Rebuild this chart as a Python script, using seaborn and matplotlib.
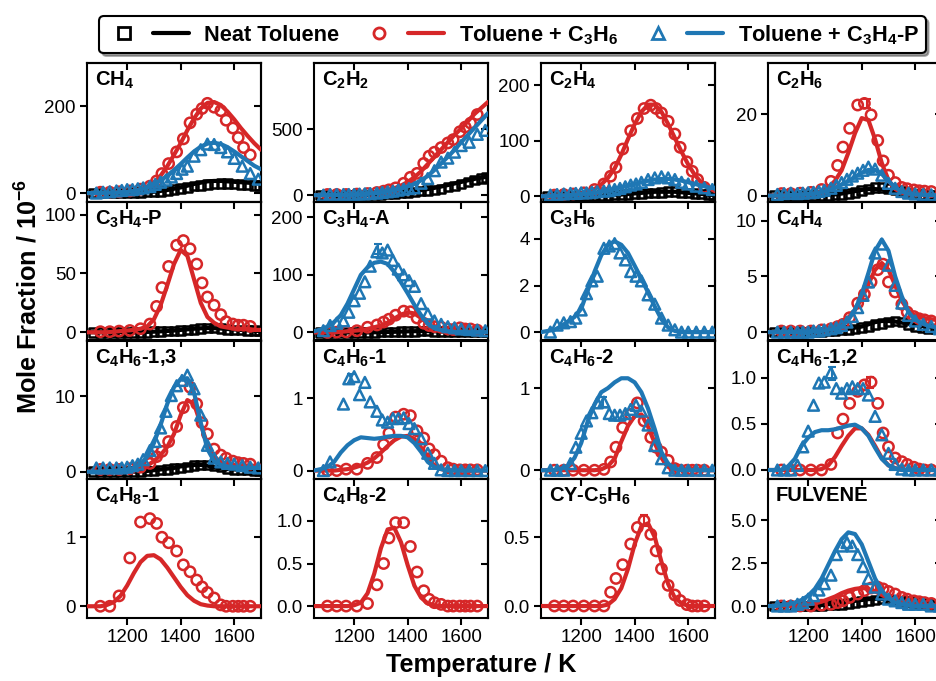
import numpy as np
import matplotlib
matplotlib.use("Agg")
import matplotlib.pyplot as plt
from matplotlib.lines import Line2D
from matplotlib.legend_handler import HandlerTuple
import seaborn as sns

nan = np.nan

# experimental temperatures (K) for the three mixtures
T_neat = [1075, 1100, 1125, 1150, 1175, 1200, 1225, 1250, 1275, 1300, 1325, 1350, 1375,
          1400, 1425, 1450, 1475, 1500, 1525, 1550, 1575, 1600, 1625, 1650, 1675, 1695]
T_c3h6 = [1100, 1135, 1170, 1210, 1250, 1285, 1310, 1330, 1355, 1385, 1410, 1435, 1460,
          1480, 1500, 1525, 1550, 1570, 1595, 1615, 1635, 1660]
T_c3h4p = [1085, 1110, 1135, 1160, 1180, 1200, 1220, 1240, 1260, 1285, 1305, 1325, 1345, 1365,
           1385, 1405, 1425, 1450, 1475, 1500, 1525, 1550, 1575, 1600, 1630, 1660, 1690]
# model temperatures
T_mod = [1050, 1075, 1100, 1125, 1150, 1175, 1200, 1225, 1250, 1275, 1300, 1325, 1350, 1375,
         1400, 1425, 1450, 1475, 1500, 1525, 1550, 1575, 1600, 1625, 1650, 1675, 1700]

# CH4
ch4_neat = [0, 0, 0, 0, 0, 0, 1, 1, 2, 3, 4, 6, 8, 10, 13, 16, 18, 20, 21, 22, 22, 21, 20, 19, 18, 17]
ch4_c3h6 = [2, 2, 3, 5, 9, 16, 28, 45, 68, 95, 125, 162, 182, 195, 207, 198, 190, 168, 150, 128, 105, 88]
ch4_c3h4p = [0, 2, 3, 5, 6, 8, 8, 10, 12, 15, 20, 25, 30, 37, 45, 55, 62, 85, 100, 113, 112, 105, 95, 80, 62, 45, 32]
ch4_neat_mod = [0, 0, 0, 0, 0, 0, 0, 1, 1, 2, 3, 5, 7, 10, 13, 17, 21, 24, 27, 28, 28, 27, 26, 25, 24, 23, 22]
ch4_c3h6_mod = [0, 0, 0, 1, 1, 2, 3, 5, 9, 15, 24, 40, 62, 88, 115, 145, 172, 195, 208, 210, 203, 188, 170, 150, 132, 115, 100]
ch4_c3h4p_mod = [0, 0, 0, 1, 1, 2, 3, 5, 8, 13, 20, 29, 40, 53, 67, 82, 96, 107, 114, 116, 113, 106, 96, 85, 74, 63, 55]

# C2H2
c2h2_neat = [0, 0, 0, 0, 0, 0, 0, 0, 2, 5, 8, 12, 15, 20, 25, 30, 35, 38, 45, 60, 70, 85, 100, 115, 125, 135]
c2h2_c3h6 = [5, 5, 5, 8, 12, 20, 30, 40, 55, 90, 135, 165, 240, 295, 325, 360, 395, 420, 480, 515, 545, 610]
c2h2_c3h4p = [0, 5, 5, 5, 5, 5, 8, 10, 12, 15, 20, 25, 30, 38, 45, 50, 55, 90, 125, 185, 250, 280, 325, 375, 400, 460, 490]
c2h2_neat_mod = [0, 0, 0, 0, 0, 0, 0, 1, 2, 4, 7, 10, 14, 19, 25, 31, 38, 46, 55, 65, 76, 88, 100, 112, 123, 133, 140]
c2h2_c3h6_mod = [0, 0, 0, 1, 2, 3, 5, 8, 12, 18, 26, 37, 52, 72, 100, 135, 180, 235, 290, 345, 400, 455, 505, 560, 615, 660, 705]
c2h2_c3h4p_mod = [0, 0, 0, 1, 2, 3, 5, 7, 10, 14, 20, 28, 38, 50, 65, 85, 112, 145, 190, 240, 290, 342, 400, 455, 510, 565, 620]

# C2H4
c2h4_neat = [0, 0, 0, 0, 0, 0, 0, 0, 1, 1, 2, 2, 3, 4, 5, 6, 6, 7, 8, 8, 7, 6, 5, 4, 3, 2]
c2h4_c3h6 = [2, 3, 4, 6, 12, 22, 36, 52, 85, 118, 140, 158, 164, 158, 150, 135, 112, 88, 62, 45, 30, 16]
c2h4_c3h4p = [2, 3, 4, 5, 5, 6, 6, 7, 8, 9, 10, 12, 14, 17, 20, 22, 25, 30, 33, 35, 33, 30, 25, 22, 18, 15, 12]
c2h4_neat_mod = [0, 0, 0, 0, 0, 0, 0, 0, 0, 1, 1, 2, 3, 4, 5, 6, 7, 8, 8, 8, 8, 7, 6, 5, 4, 3, 3]
c2h4_c3h6_mod = [0, 0, 1, 1, 2, 3, 5, 8, 13, 21, 33, 50, 75, 103, 130, 152, 165, 165, 152, 130, 105, 80, 57, 38, 24, 15, 9]
c2h4_c3h4p_mod = [0, 0, 1, 1, 2, 3, 4, 5, 6, 8, 10, 13, 16, 19, 22, 25, 28, 30, 31, 31, 30, 28, 25, 22, 19, 16, 14]

# C2H6
c2h6_neat = [0, 0, 0, 0, 0, 0, 0, 0, 0.1, 0.2, 0.3, 0.5, 0.8, 1.2, 1.6, 2.0, 2.0, 1.8, 1.5, 1.0, 0.6, 0.4, 0.3, 0.2, 0.1, 0.1]
c2h6_c3h6 = [0.5, 0.5, 0.6, 0.8, 1.5, 3.5, 7.4, 11.9, 16.5, 22.2, 22.6, 19.8, 13.5, 8.5, 5.0, 3.2, 2.0, 1.7, 1.4, 1.2, 1.1, 1.0]
c2h6_c3h4p = [0.3, 0.5, 0.6, 0.5, 0.6, 0.7, 0.8, 1.0, 1.3, 1.8, 2.5, 3.2, 4.0, 4.8, 5.5, 6.2, 7.0, 6.5, 5.0, 3.0, 1.8, 1.0, 0.6, 0.4, 0.3, 0.2, 0.2]
c2h6_neat_mod = [0, 0, 0, 0, 0, 0, 0, 0, 0.1, 0.2, 0.3, 0.5, 0.8, 1.1, 1.4, 1.6, 1.6, 1.5, 1.2, 0.9, 0.6, 0.4, 0.3, 0.2, 0.1, 0.1, 0.1]
c2h6_c3h6_mod = [0, 0, 0, 0, 0.1, 0.2, 0.3, 0.6, 1.1, 2.0, 3.6, 6.2, 10.5, 15.3, 19.0, 18.5, 13.8, 8.0, 3.8, 1.6, 0.7, 0.4, 0.3, 0.2, 0.2, 0.2, 0.2]
c2h6_c3h4p_mod = [0, 0, 0, 0.1, 0.2, 0.3, 0.4, 0.6, 0.9, 1.3, 1.9, 2.7, 3.6, 4.6, 5.6, 6.3, 6.3, 5.3, 3.6, 2.0, 1.0, 0.5, 0.3, 0.2, 0.1, 0.1, 0.1]

# C3H4-P
c3h4p_neat = [0, 0, 0, 0, 0, 0, 0, 0, 0, 0.5, 0.5, 1, 1, 1.5, 2, 2.5, 3, 3.5, 3.5, 3, 2.5, 2, 2, 1.5, 1.5, 1]
c3h4p_c3h6 = [0.5, 0.5, 1, 1.5, 3, 7, 22, 38, 56, 74, 78, 71, 58, 42, 30, 23, 15, 9, 7, 6, 6, 5]
c3h4p_neat_mod = [0, 0, 0, 0, 0, 0, 0, 0, 0, 0.3, 0.5, 0.8, 1.1, 1.5, 2, 2.5, 3, 3.4, 3.6, 3.5, 3.2, 2.8, 2.4, 2, 1.7, 1.5, 1.3]
c3h4p_c3h6_mod = [0, 0, 0, 0, 0.5, 1, 1.5, 2, 3, 5, 11, 23, 40, 58, 70, 65, 45, 25, 13, 8, 5, 4, 3, 3, 3, 2, 2]

# C3H4-A
c3h4a_neat = [0, 0, 0, 0, 0, 0, 0, 0, 0, 0.5, 1, 1, 1.5, 2, 2, 2.5, 2.5, 2, 2, 1.5, 1, 1, 1, 0.5, 0.5, 0.5]
c3h4a_c3h6 = [0, 0.5, 1, 3, 9, 13, 18, 23, 30, 37, 36, 25, 16, 12, 10, 9, 6, 5, 8, 6, 6, 4]
c3h4a_c3h4p = [3, 12, 16, 20, 35, 55, 68, 88, 115, 140, 138, 143, 125, 110, 100, 90, 80, 50, 32, 20, 14, 10, 8, 6, 5, 4, 3]
c3h4a_neat_mod = [0, 0, 0, 0, 0, 0, 0, 0, 0, 0.3, 0.5, 0.8, 1.1, 1.5, 1.9, 2.2, 2.4, 2.3, 2, 1.7, 1.4, 1.1, 0.9, 0.7, 0.6, 0.5, 0.4]
c3h4a_c3h6_mod = [0, 0, 0, 0, 1, 2, 3, 4, 6, 9, 12, 17, 24, 31, 35, 33, 25, 15, 8, 4, 2, 1, 1, 0.5, 0.5, 0.5, 0.5]
c3h4a_c3h4p_mod = [2, 5, 10, 18, 30, 50, 75, 100, 113, 121, 123, 119, 105, 87, 68, 48, 30, 15, 7, 4, 2, 1, 1, 0.5, 0.5, 0.5, 0.5]

# C3H6
c3h6_c3h4p = [0.0, 0.3, 0.4, 0.45, 0.6, 0.95, 1.65, 2.2, 2.4, 3.6, 3.7, 3.8, 3.4, 3.1, 2.6, 2.4, 2.2, 1.6, 1.2,
              0.6, 0.3, 0.1, 0, 0, 0, 0, 0]
c3h6_c3h4p_mod = [0, 0.05, 0.1, 0.25, 0.45, 0.65, 1.0, 1.8, 2.6, 3.3, 3.75, 3.9, 3.75, 3.4, 2.85, 2.3, 1.7,
                  1.1, 0.55, 0.2, 0.05, 0, 0, 0, 0, 0, 0]

# C4H4
c4h4_neat = [0, 0, 0, 0, 0, 0, 0, 0, 0.1, 0.1, 0.2, 0.2, 0.3, 0.4, 0.5, 0.7, 0.8, 0.9, 1.0, 0.9, 0.7, 0.5, 0.4, 0.3, 0.3, 0.2]
c4h4_c3h6 = [0.1, 0.1, 0.1, 0.1, 0.2, 0.3, 0.5, 0.7, 1.3, 2.6, 3.4, 4.5, 5.6, 6.1, 4.5, 3.6, 2.5, 1.8, 1.4, 1.2, 1.1, 1.0]
c4h4_c3h4p = [0, 0, 0, 0, 0, 0, 0.1, 0.1, 0.2, 0.3, 0.4, 0.6, 0.9, 1.4, 2.2, 3.3, 4.5, 7.1, 7.9, 6.0, 4.2, 2.6,
              1.5, 1.0, 0.7, 0.5, 0.3]
c4h4_neat_mod = [0, 0, 0, 0, 0, 0, 0, 0, 0, 0.1, 0.1, 0.2, 0.3, 0.4, 0.5, 0.7, 0.9, 1.0, 1.0, 0.95, 0.85, 0.75,
                 0.65, 0.55, 0.5, 0.45, 0.4]
c4h4_c3h6_mod = [0, 0, 0, 0, 0, 0, 0.1, 0.1, 0.2, 0.3, 0.5, 0.8, 1.3, 2.0, 3.0, 4.3, 5.6, 6.2, 5.6, 4.2, 2.8, 1.9,
                 1.5, 1.3, 1.2, 1.1, 1.05]
c4h4_c3h4p_mod = [0, 0, 0, 0, 0, 0, 0, 0.1, 0.1, 0.2, 0.3, 0.5, 1.1, 2.0, 3.4, 5.3, 7.3, 8.3, 7.3, 5.0, 3.2, 1.8,
                  1.1, 0.8, 0.55, 0.45, 0.4]

# C4H6-1,3
c4h613_neat = [0, 0, 0, 0, 0, 0, 0, 0, 0.1, 0.1, 0.2, 0.3, 0.4, 0.5, 0.6, 0.8, 0.9, 0.9, 0.8, 0.6, 0.4, 0.3, 0.2, 0.2, 0.1, 0.1]
c4h613_c3h6 = [0.3, 0.3, 0.3, 0.4, 0.6, 1.1, 2.0, 2.7, 4.0, 6.0, 8.5, 11.2, 9.0, 6.5, 5.0, 3.0, 2.2, 1.8, 1.4, 1.2, 1.1, 1.0]
c4h613_c3h4p = [0.5, 0.5, 0.5, 0.5, 0.5, 0.6, 0.8, 1.0, 1.6, 2.8, 4.0, 5.8, 8.0, 10.1, 11.4, 12.1, 12.8, 11.0, 7.5,
                3.5, 1.8, 1.3, 1.1, 1.0, 0.8, 0.6, 0.5]
c4h613_neat_mod = [0, 0, 0, 0, 0, 0, 0, 0, 0.1, 0.1, 0.2, 0.3, 0.4, 0.5, 0.7, 0.8, 0.9, 0.9, 0.8, 0.6, 0.45, 0.35,
                   0.3, 0.25, 0.2, 0.2, 0.2]
c4h613_c3h6_mod = [0, 0, 0, 0, 0.1, 0.1, 0.2, 0.3, 0.5, 0.8, 1.4, 2.2, 3.3, 5.0, 7.5, 9.5, 9.0, 6.3, 3.6, 2.0, 1.3,
                   1.0, 0.9, 0.8, 0.8, 0.8, 0.8]
c4h613_c3h4p_mod = [0, 0, 0, 0.1, 0.1, 0.2, 0.3, 0.5, 1.0, 2.0, 3.8, 6.2, 9.0, 11.2, 12.3, 12.4, 10.5, 6.5, 3.0,
                    1.4, 0.9, 0.7, 0.6, 0.5, 0.5, 0.5, 0.5]

# C4H6-1
c4h61_c3h6 = [0, 0, 0.02, 0.02, 0.1, 0.18, 0.36, 0.52, 0.74, 0.78, 0.76, 0.55, 0.45, 0.3, 0.22, 0.13, 0.04, 0.02,
              0.01, 0.01, 0.01, 0.01]
c4h61_c3h4p = [0, 0.12, nan, 0.92, 1.27, 1.3, 1.05, 1.22, 0.95, 0.82, 0.7, 0.67, 0.72, 0.72, 0.73, 0.65, 0.58, 0.44,
               0.24, 0.1, 0.01, 0, 0, 0, 0, 0, 0]
c4h61_c3h6_mod = [0, 0, 0, 0, 0.01, 0.02, 0.04, 0.07, 0.11, 0.17, 0.25, 0.34, 0.42, 0.47, 0.48, 0.44, 0.32, 0.17,
                  0.07, 0.02, 0.01, 0, 0, 0, 0, 0, 0]
c4h61_c3h4p_mod = [0, 0.02, 0.05, 0.12, 0.25, 0.35, 0.42, 0.46, 0.45, 0.44, 0.45, 0.47, 0.48, 0.48, 0.46, 0.38,
                   0.26, 0.12, 0.05, 0.02, 0, 0, 0, 0, 0, 0, 0]

# C4H6-2
c4h62_c3h6 = [0, 0, 0, 0, 0, 0.01, 0.1, 0.28, 0.52, 0.68, 0.82, 0.6, 0.4, 0.28, 0.22, 0.12, 0.02, 0, 0, 0, 0, 0]
c4h62_c3h4p = [0, 0, 0, 0.08, 0.28, 0.45, 0.6, 0.7, 0.82, 0.83, 0.69, 0.67, 0.67, 0.69, 0.74, 0.79, 0.72, 0.55, 0.3,
               0.14, 0.03, 0, 0, 0, 0, 0, 0]
c4h62_c3h6_mod = [0, 0, 0, 0, 0, 0, 0, 0, 0, 0.01, 0.05, 0.14, 0.35, 0.54, 0.66, 0.68, 0.53, 0.33, 0.15, 0.04,
                  0.01, 0, 0, 0, 0, 0, 0]
c4h62_c3h4p_mod = [0, 0, 0, 0.02, 0.05, 0.15, 0.33, 0.6, 0.8, 0.95, 1.0, 1.07, 1.12, 1.12, 1.07, 0.95, 0.75,
                   0.5, 0.22, 0.08, 0.02, 0, 0, 0, 0, 0, 0]

# C4H6-1,2
c4h612_c3h6 = [0, 0, 0, 0, 0, 0.06, 0.4, 0.55, 0.72, 0.85, 0.92, 0.95, 0.72, 0.4, 0.25, 0.13, 0.09, 0.06, 0.03,
               0.01, 0, 0]
c4h612_c3h4p = [0, 0, 0, 0.05, 0.25, 0.42, 0.7, 0.94, 0.95, 1.05, 0.88, 0.83, 0.88, 0.9, 0.88, 0.88, 0.81, 0.58,
                0.38, 0.18, 0.06, 0.01, 0, 0, 0, 0, 0]
c4h612_c3h6_mod = [0, 0, 0, 0, 0, 0, 0, 0, 0.01, 0.05, 0.14, 0.26, 0.37, 0.45, 0.45, 0.38, 0.26, 0.13, 0.05,
                   0.02, 0, 0, 0, 0, 0, 0, 0]
c4h612_c3h4p_mod = [0, 0, 0, 0.04, 0.12, 0.26, 0.35, 0.41, 0.43, 0.43, 0.44, 0.46, 0.48, 0.49, 0.45, 0.37, 0.24,
                    0.12, 0.05, 0.02, 0, 0, 0, 0, 0, 0, 0]

# C4H8-1
c4h81_c3h6 = [0, 0, 0.15, 0.7, 1.22, 1.27, 1.2, 1.0, 0.92, 0.8, 0.6, 0.5, 0.38, 0.28, 0.2, 0.12, 0.02, 0, 0, 0, 0, 0]
c4h81_c3h6_mod = [0, 0, 0, 0.02, 0.06, 0.15, 0.3, 0.48, 0.64, 0.73, 0.74, 0.68, 0.56, 0.42, 0.28, 0.16, 0.08,
                  0.03, 0.01, 0, 0, 0, 0, 0, 0, 0, 0]

# C4H8-2
c4h82_c3h6 = [0, 0, 0, 0, 0.03, 0.25, 0.5, 0.8, 0.98, 0.98, 0.7, 0.4, 0.18, 0.08, 0.04, 0.02, 0, 0, 0, 0, 0, 0]
c4h82_c3h6_mod = [0, 0, 0, 0, 0, 0, 0.01, 0.04, 0.15, 0.38, 0.68, 0.9, 0.92, 0.75, 0.48, 0.24, 0.1, 0.03, 0.01,
                  0, 0, 0, 0, 0, 0, 0, 0]

# CY-C5H6
cyc5h6_c3h6 = [0, 0, 0, 0, 0, 0, 0.1, 0.2, 0.3, 0.45, 0.57, 0.62, 0.52, 0.4, 0.27, 0.15, 0.08, 0.04, 0.01, 0, 0, 0]
cyc5h6_c3h6_mod = [0, 0, 0, 0, 0, 0, 0, 0, 0, 0, 0.01, 0.05, 0.13, 0.27, 0.45, 0.58, 0.6, 0.5, 0.32, 0.16, 0.06,
                   0.02, 0, 0, 0, 0, 0]

# FULVENE
fulv_neat = [0, 0, 0, 0, 0, 0, 0, 0, 0.05, 0.1, 0.1, 0.15, 0.2, 0.25, 0.3, 0.35, 0.4, 0.4, 0.35, 0.3, 0.25, 0.2,
             0.15, 0.1, 0.1, 0.1]
fulv_c3h6 = [0, 0, 0, 0, 0.05, 0.1, 0.2, 0.3, 0.5, 0.7, 0.9, 1.05, 1.1, 1.0, 0.85, 0.7, 0.5, 0.4, 0.3, 0.25, 0.2, 0.15]
fulv_c3h4p = [0, 0, 0, 0.1, 0.2, 0.4, 0.6, 0.93, 1.3, 1.8, 3.0, 3.5, 3.7, 3.5, 3.0, 2.3, 1.6, 1.1, 0.7, 0.4, 0.3,
              0.2, 0.1, 0.1, 0.1, 0, 0]
fulv_neat_mod = [0, 0, 0, 0, 0, 0, 0, 0, 0.05, 0.1, 0.15, 0.2, 0.25, 0.3, 0.35, 0.4, 0.42, 0.4, 0.35, 0.3, 0.25,
                 0.2, 0.15, 0.12, 0.1, 0.08, 0.06]
fulv_c3h6_mod = [0, 0, 0, 0, 0, 0.05, 0.1, 0.15, 0.25, 0.4, 0.55, 0.75, 0.9, 1.0, 1.05, 1.0, 0.85, 0.65, 0.45,
                 0.3, 0.2, 0.15, 0.1, 0.08, 0.05, 0.05, 0.05]
fulv_c3h4p_mod = [0, 0, 0.05, 0.1, 0.2, 0.35, 0.6, 1.0, 1.6, 2.4, 3.2, 3.9, 4.3, 4.2, 3.6, 2.6, 1.6, 0.9, 0.45,
                  0.2, 0.1, 0.05, 0, 0, 0, 0, 0]

species = ["CH$_\\mathbf{4}$", "C$_\\mathbf{2}$H$_\\mathbf{2}$", "C$_\\mathbf{2}$H$_\\mathbf{4}$",
           "C$_\\mathbf{2}$H$_\\mathbf{6}$", "C$_\\mathbf{3}$H$_\\mathbf{4}$-P", "C$_\\mathbf{3}$H$_\\mathbf{4}$-A",
           "C$_\\mathbf{3}$H$_\\mathbf{6}$", "C$_\\mathbf{4}$H$_\\mathbf{4}$", "C$_\\mathbf{4}$H$_\\mathbf{6}$-1,3",
           "C$_\\mathbf{4}$H$_\\mathbf{6}$-1", "C$_\\mathbf{4}$H$_\\mathbf{6}$-2", "C$_\\mathbf{4}$H$_\\mathbf{6}$-1,2",
           "C$_\\mathbf{4}$H$_\\mathbf{8}$-1", "C$_\\mathbf{4}$H$_\\mathbf{8}$-2", "CY-C$_\\mathbf{5}$H$_\\mathbf{6}$",
           "FULVENE"]
ylims = [(-20, 300), (-50, 1000), (-10, 240), (-1.5, 32.5),
         (-7, 111), (-14, 227), (-0.36, 5.6), (-0.75, 11.7),
         (-1, 17.4), (-0.12, 1.8), (-0.11, 1.58), (-0.1, 1.4),
         (-0.17, 1.84), (-0.14, 1.49), (-0.087, 0.92), (-0.7, 7.4)]
yticks = [[0, 200], [0, 500], [0, 100, 200], [0, 20],
          [0, 50, 100], [0, 100, 200], [0, 2, 4], [0, 5, 10],
          [0, 10], [0, 1], [0, 1], [0.0, 0.5, 1.0],
          [0, 1], [0.0, 0.5, 1.0], [0.0, 0.5], [0.0, 2.5, 5.0]]
xticks = [1200, 1400, 1600]

# series per panel: (mixture, experimental values, model values)
panel_series = [
    [("neat", ch4_neat, ch4_neat_mod), ("c3h6", ch4_c3h6, ch4_c3h6_mod), ("c3h4p", ch4_c3h4p, ch4_c3h4p_mod)],
    [("neat", c2h2_neat, c2h2_neat_mod), ("c3h6", c2h2_c3h6, c2h2_c3h6_mod), ("c3h4p", c2h2_c3h4p, c2h2_c3h4p_mod)],
    [("neat", c2h4_neat, c2h4_neat_mod), ("c3h6", c2h4_c3h6, c2h4_c3h6_mod), ("c3h4p", c2h4_c3h4p, c2h4_c3h4p_mod)],
    [("neat", c2h6_neat, c2h6_neat_mod), ("c3h6", c2h6_c3h6, c2h6_c3h6_mod), ("c3h4p", c2h6_c3h4p, c2h6_c3h4p_mod)],
    [("neat", c3h4p_neat, c3h4p_neat_mod), ("c3h6", c3h4p_c3h6, c3h4p_c3h6_mod)],
    [("neat", c3h4a_neat, c3h4a_neat_mod), ("c3h6", c3h4a_c3h6, c3h4a_c3h6_mod), ("c3h4p", c3h4a_c3h4p, c3h4a_c3h4p_mod)],
    [("c3h4p", c3h6_c3h4p, c3h6_c3h4p_mod)],
    [("neat", c4h4_neat, c4h4_neat_mod), ("c3h6", c4h4_c3h6, c4h4_c3h6_mod), ("c3h4p", c4h4_c3h4p, c4h4_c3h4p_mod)],
    [("neat", c4h613_neat, c4h613_neat_mod), ("c3h6", c4h613_c3h6, c4h613_c3h6_mod),
     ("c3h4p", c4h613_c3h4p, c4h613_c3h4p_mod)],
    [("c3h6", c4h61_c3h6, c4h61_c3h6_mod), ("c3h4p", c4h61_c3h4p, c4h61_c3h4p_mod)],
    [("c3h6", c4h62_c3h6, c4h62_c3h6_mod), ("c3h4p", c4h62_c3h4p, c4h62_c3h4p_mod)],
    [("c3h6", c4h612_c3h6, c4h612_c3h6_mod), ("c3h4p", c4h612_c3h4p, c4h612_c3h4p_mod)],
    [("c3h6", c4h81_c3h6, c4h81_c3h6_mod)],
    [("c3h6", c4h82_c3h6, c4h82_c3h6_mod)],
    [("c3h6", cyc5h6_c3h6, cyc5h6_c3h6_mod)],
    [("neat", fulv_neat, fulv_neat_mod), ("c3h6", fulv_c3h6, fulv_c3h6_mod), ("c3h4p", fulv_c3h4p, fulv_c3h4p_mod)],
]

# representative error bars: (panel, mixture, T, value, error)
err_panel = [3, 5, 9, 10, 11, 11, 14]
err_mix = ["c3h6", "c3h4p", "c3h4p", "c3h4p", "c3h4p", "c3h6", "c3h6"]
err_T = [1420, 1290, 1190, 1280, 1290, 1430, 1435]
err_val = [22.6, 145, 1.27, 0.83, 1.04, 0.95, 0.62]
err_size = [1.2, 9, 0.06, 0.06, 0.07, 0.06, 0.04]

mix_T = {"neat": T_neat, "c3h6": T_c3h6, "c3h4p": T_c3h4p}
mix_color = {"neat": "black", "c3h6": "#d62728", "c3h4p": "#1f77b4"}
mix_marker = {"neat": "s", "c3h6": "o", "c3h4p": "^"}
mix_size = {"neat": 38, "c3h6": 55, "c3h4p": 60}
mix_z = {"neat": 2, "c3h6": 3, "c3h4p": 4}

sns.set_theme(style="ticks")
plt.rcParams["font.family"] = ["Liberation Sans", "DejaVu Sans"]
plt.rcParams["mathtext.fontset"] = "custom"
plt.rcParams["mathtext.rm"] = "Liberation Sans"
plt.rcParams["mathtext.bf"] = "Liberation Sans:bold"
plt.rcParams["axes.linewidth"] = 1.5
plt.rcParams["axes.edgecolor"] = "black"
plt.rcParams["text.color"] = "black"
plt.rcParams["xtick.color"] = "black"
plt.rcParams["ytick.color"] = "black"

fig, axes = plt.subplots(4, 4, figsize=(9.37, 6.81), dpi=100, sharex=True)
fig.subplots_adjust(left=87 / 937, right=942 / 937, top=1 - 63 / 681, bottom=1 - 618 / 681,
                    wspace=0.305, hspace=0)

for i, ax in enumerate(axes.flat):
    for mix, vals, mod in panel_series[i]:
        c = mix_color[mix]
        z = mix_z[mix]
        sns.scatterplot(x=mix_T[mix], y=vals, ax=ax, marker=mix_marker[mix], s=mix_size[mix],
                        facecolor="none", edgecolor=c, linewidth=1.8, zorder=z, legend=False)
        sns.lineplot(x=T_mod, y=mod, ax=ax, color=c, linewidth=3, zorder=z + 0.5, legend=False)
    for k in range(len(err_panel)):
        if err_panel[k] == i:
            ax.errorbar(err_T[k], err_val[k], yerr=err_size[k], fmt="none", ecolor=mix_color[err_mix[k]],
                        elinewidth=1.5, capsize=3, capthick=1.5, zorder=6)
    ax.set_xlim(1050, 1700)
    ax.set_ylim(*ylims[i])
    ax.set_yticks(yticks[i])
    ax.set_xticks(xticks)
    # outward ticks on left/bottom, inward mirrored ticks on right/top
    ax.tick_params(direction="out", length=5, width=1.5, labelsize=13.5, pad=3)
    top = ax.secondary_xaxis("top")
    top.set_xticks(xticks)
    top.tick_params(direction="in", length=5, width=1.5, labeltop=False)
    right = ax.secondary_yaxis("right")
    right.set_yticks(yticks[i])
    right.tick_params(direction="in", length=5, width=1.5, labelright=False)
    ax.set_xlabel("")
    ax.set_ylabel("")
    ax.text(0.045, 0.95, species[i], transform=ax.transAxes, ha="left", va="top",
            fontsize=14.5, fontweight="bold", zorder=10)

handles = []
for mix in ["neat", "c3h6", "c3h4p"]:
    mk = Line2D([], [], marker=mix_marker[mix], linestyle="", markerfacecolor="none",
                markeredgecolor=mix_color[mix], markeredgewidth=2, markersize=8)
    ln = Line2D([], [], color=mix_color[mix], linewidth=3)
    handles.append((mk, ln))
labels = ["Neat Toluene", "Toluene + C$_\\mathbf{3}$H$_\\mathbf{6}$", "Toluene + C$_\\mathbf{3}$H$_\\mathbf{4}$-P"]
leg = fig.legend(handles, labels, handler_map={tuple: HandlerTuple(ndivide=None, pad=0.5)},
                 loc="center", bbox_to_anchor=(0.547, 0.949), ncol=3, frameon=True, fancybox=True,
                 shadow=True, handlelength=3.8, columnspacing=1.0, handletextpad=0.7,
                 prop={"weight": "bold", "size": 15.7}, borderpad=0.3)
leg.get_frame().set_edgecolor("black")
leg.get_frame().set_linewidth(1.5)

fig.text(0.03, 0.565, "Mole Fraction / 10$^{\\mathbf{-6}}$", rotation=90, ha="center", va="center",
         fontsize=18.2, fontweight="bold")
fig.text(0.514, 0.023, "Temperature / K", ha="center", va="center", fontsize=18.2, fontweight="bold")

fig.savefig("out.png", dpi=100)
